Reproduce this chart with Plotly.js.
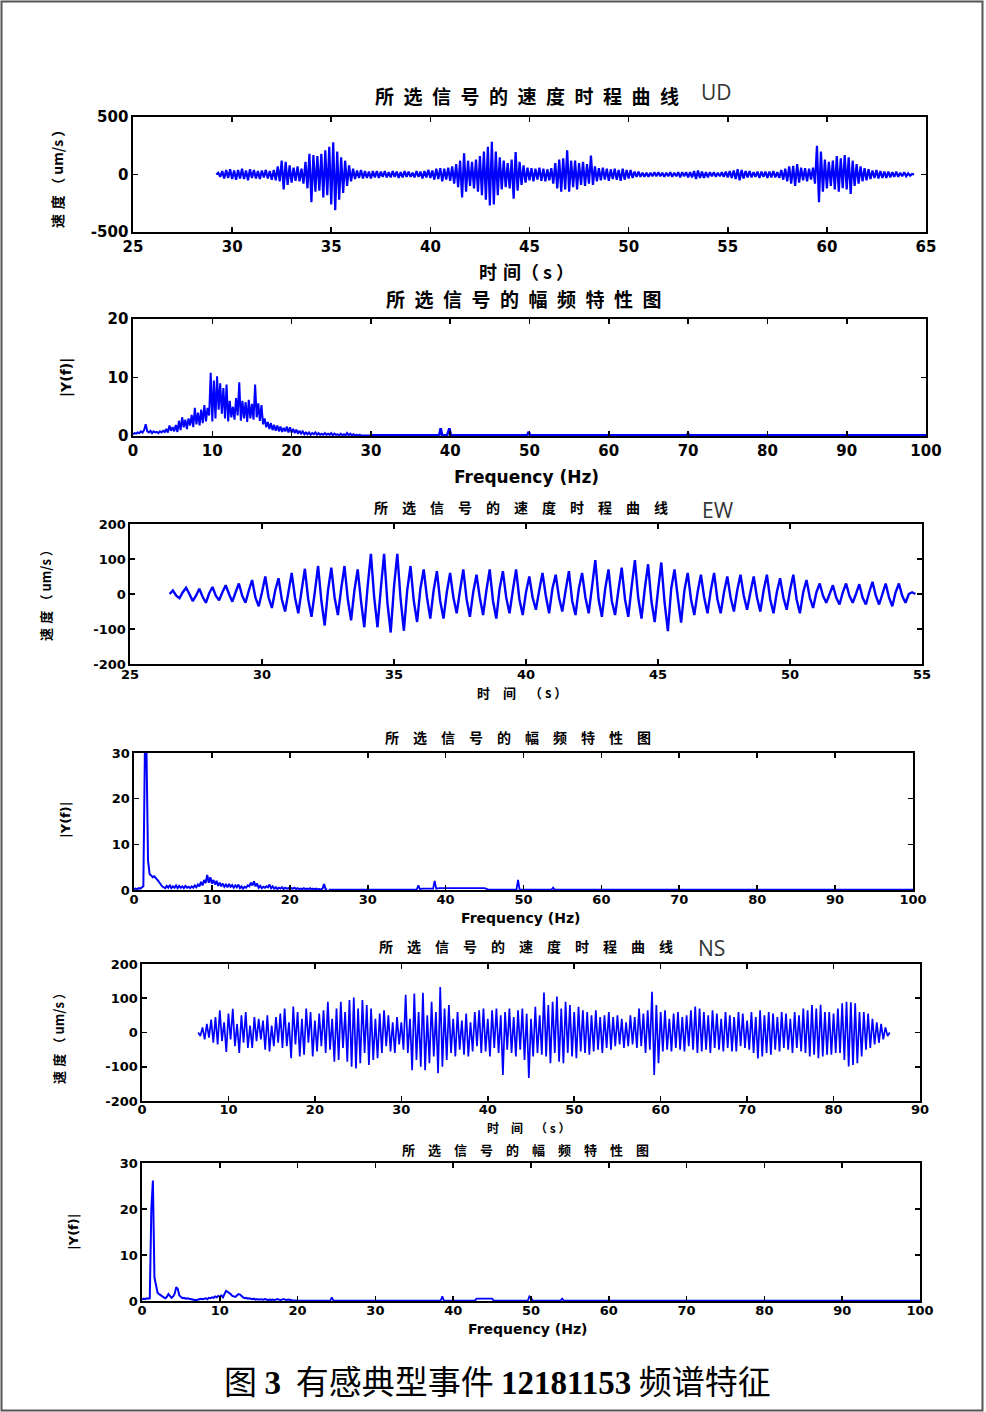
<!DOCTYPE html>
<html>
<head>
<meta charset="utf-8">
<script src="https://cdn.plot.ly/plotly-3.0.1.min.js"></script>
<style>html,body{margin:0;padding:0;background:#fff;}#chart{width:986px;height:1412px;}</style>
</head>
<body>
<div id="chart"></div>
<script>
// ---------------- DATA ----------------
// UD velocity time history (um/s), sampled every 0.1 s from 29.2 s
const udStart = 29.2, udStep = 0.1;
const udVel = [
0,15,-20,30,-35,40,-30,45,-40,35,
-45,40,-35,50,-40,35,-50,45,-30,40,
-35,30,-40,35,-25,40,-35,30,-45,40,
-50,70,-60,120,-130,110,-90,80,-70,60,
-55,70,-60,50,-80,110,-120,180,-240,170,
-150,160,-140,180,-200,210,-180,240,-260,280,
-310,200,-220,150,-160,120,-100,80,-60,50,
-40,35,-30,40,-35,30,-30,25,-35,30,
-25,30,-30,25,-20,30,-25,20,-25,30,
-20,25,-30,20,-25,30,-20,25,-20,15,
-25,30,-20,25,-35,30,-25,40,-30,35,
-45,50,-40,55,-60,50,-45,60,-55,70,
-80,90,-110,120,-200,185,-150,120,-100,110,
-120,130,-150,160,-180,200,-220,240,-270,285,
-260,200,-180,150,-130,120,-110,100,-120,130,
-210,195,-140,110,-90,80,-70,60,-50,55,
-60,50,-45,60,-55,50,-60,45,-50,55,
-80,100,-120,130,-150,140,-130,210,-150,120,
-110,120,-130,100,-90,110,-100,90,-80,165,
-90,70,-60,55,-50,60,-45,50,-55,45,
-40,50,-45,40,-55,50,-45,40,-35,40,
-30,25,-20,25,-20,15,-20,15,-20,15,
-15,20,-15,20,-15,15,-20,15,-15,20,
-20,15,-15,20,-25,20,-15,20,-25,20,
-25,30,-40,35,-30,25,-30,20,-25,20,
-15,20,-20,15,-15,20,-20,25,-25,30,
-30,35,-40,45,-50,40,-35,30,-25,30,
-25,20,-20,25,-30,25,-20,25,-30,25,
-25,30,-25,20,-30,40,-45,50,-60,70,
-80,75,-100,90,-70,60,-50,55,-60,50,
-45,60,-80,250,-240,200,-150,130,-120,110,
-100,120,-130,160,-150,140,-120,170,-130,150,
-170,120,-100,90,-80,70,-60,55,-50,45,
-40,35,-30,40,-35,30,-30,25,-30,25,
-25,20,-20,25,-20,15,-15,20,-15,10,
-10,5,0
];

// UD amplitude spectrum |Y(f)|, every 0.2 Hz from 0 to 30 Hz, then sparse tail
const udSpecStart = 0, udSpecStep = 0.2;
const udSpec = [
0.3,0.5,0.4,0.6,0.5,0.8,0.6,1.0,2.0,0.8,
0.6,0.9,0.5,0.8,0.6,0.7,0.5,0.8,0.6,0.9,
0.7,1.2,0.6,1.8,0.9,1.5,0.8,1.9,0.7,2.6,
1.0,3.2,1.5,2.8,1.2,3.0,1.8,3.6,1.5,4.8,
2.0,4.0,1.8,4.5,2.2,5.3,2.5,4.8,3.5,10.8,
2.5,9.5,3.0,10.2,4.5,9.0,3.8,8.2,3.0,8.8,
2.5,6.0,3.2,5.0,2.8,6.5,3.5,9.2,2.6,6.0,
3.0,5.8,2.4,6.2,3.0,5.5,2.8,8.8,3.2,5.6,
2.6,5.3,2.0,3.0,1.5,2.4,1.2,2.2,1.0,1.9,
0.9,1.8,0.8,1.6,0.7,1.4,0.8,1.6,0.6,1.5,
0.6,1.2,0.5,1.1,0.4,0.9,0.4,0.8,0.3,0.6,
0.3,0.6,0.2,0.5,0.3,0.6,0.2,0.5,0.2,0.4,
0.2,0.5,0.2,0.4,0.2,0.5,0.1,0.4,0.2,0.3,
0.1,0.4,0.1,0.3,0.1,0.5,0.1,0.4,0.1,0.3,
0.1,0.2,0.1,0.2,0.1,0.1,0.1,0.2,0.1,0.1,
0.1
];
const udTailFreq = [30,38.6,38.8,39.0,39.6,39.9,40.1,49.7,49.9,50.1,69.8,70.0,70.2,100];
const udTailAmp  = [0.1,0.1,1.3,0.1,0.1,1.3,0.1,0.1,0.7,0.1,0.1,0.4,0.1,0.1];

// EW velocity time history, every 0.125 s from 26.5 s
const ewStart = 26.5, ewStep = 0.125;
const ewVel = [
0,10,-5,-12, 5,18,0,-20, -5,15,-8,-25, 2,20,-5,-18,
5,25,0,-22, 5,30,-5,-25, 10,40,-10,-35, 5,50,-10,-40,
10,45,-15,-50, 5,60,-10,-55, 10,72,-15,-65, 5,80,-20,-90,
10,75,-10,-60, 15,80,-15,-75, 10,70,-20,-95, 20,115,-10,-95,
15,115,-25,-110, 20,115,-15,-105, 10,80,-20,-80, 15,70,-10,-70,
10,65,-20,-70, 5,60,-10,-55, 10,70,-15,-65, 5,55,-10,-60,
10,70,-20,-70, 15,65,-10,-55, 10,70,-15,-60, 5,50,-10,-45,
10,60,-5,-55, 15,55,-10,-50, 10,65,-20,-60, 15,60,-10,-55,
20,97,-15,-65, 15,70,-20,-60, 10,75,-15,-65, 20,97,-10,-70,
15,85,-20,-80, 10,90,-25,-106, 15,70,-10,-82, 10,60,-15,-60,
5,55,-10,-55, 10,60,-15,-55, 5,50,-10,-50, 10,55,-5,-45,
5,50,-10,-50, 10,55,-15,-55, 5,45,-10,-45, 10,55,-15,-55,
5,40,-10,-40, 5,30,-5,-25, 0,25,-10,-30, 5,30,-5,-25,
0,28,-10,-30, 5,35,-5,-30, 0,30,-10,-35, 5,30,-5,-25,
0,5,0
];

// EW amplitude spectrum, every 0.2 Hz from 0 to 24.8 Hz, then sparse tail
const ewSpecStart = 0, ewSpecStep = 0.2;
const ewSpec = [
0.2,0.3,0.2,0.4,0.3,0.5,0.8,31,31,6.5,
3.5,3.2,2.8,3.0,2.5,2.2,1.8,1.2,0.8,0.6,
0.4,0.9,0.5,1.1,0.4,0.8,0.5,1.0,0.4,0.9,
0.5,0.8,0.4,0.9,0.5,0.7,0.4,0.8,0.5,1.0,
0.6,1.2,0.8,1.8,1.0,2.2,1.5,3.3,1.6,2.8,
1.4,2.2,1.2,2.0,0.9,1.6,0.8,1.4,0.7,1.2,
0.6,1.3,0.7,1.1,0.5,1.0,0.6,1.2,0.4,0.8,
0.3,0.7,0.5,1.0,0.8,1.6,1.0,1.9,0.8,1.4,
0.5,0.9,0.4,0.7,0.5,0.8,0.6,1.2,0.4,0.8,
0.3,0.6,0.2,0.5,0.3,0.6,0.2,0.5,0.3,0.4,
0.2,0.4,0.3,0.5,0.2,0.4,0.2,0.3,0.2,0.4,
0.2,0.3,0.2,0.4,0.1,0.3,0.2,0.3,0.1,0.2,
0.1,0.3,1.3,0.2,0.1
];
const ewTailFreq = [25,36.3,36.5,36.7,37.0,38.4,38.6,38.8,39.2,45.0,45.5,49.1,49.3,49.5,53.6,53.8,54.0,100];
const ewTailAmp  = [0.1,0.1,1.0,0.2,0.3,0.3,2.0,0.3,0.4,0.4,0.1,0.1,2.2,0.1,0.1,0.5,0.1,0.1];

// NS velocity time history, every 0.25 s from 6.5 s
const nsStart = 6.5, nsStep = 0.25;
const nsVel = [
0,-10,15,-20, 25,-15,38,-30, 45,-35,65,-25, 30,-57,55,-20,
69,-40,25,-60, 50,-30,60,-45, 20,-45,45,-25, 40,-20,35,-50,
50,-55,20,-40, 45,-30,55,-45, 70,-40,30,-75, 76,-35,60,-70,
40,-65,70,-30, 60,-70,35,-55, 55,-40,65,-60, 90,-50,40,-85,
70,-80,90,-45, 60,-85,95,-100, 102,-105,70,-90, 95,-60,80,-95,
70,-80,40,-75, 55,-60,65,-40, 50,-55,30,-60, 45,-35,30,-50,
110,-60,40,-110, 114,-80,60,-100, 116,-110,50,-90, 90,-70,60,-119,
133,-100,70,-80, 80,-60,40,-70, 60,-50,35,-65, 55,-70,30,-55,
60,-40,65,-60, 70,-55,40,-70, 65,-45,70,-60, 50,-124,60,-50,
70,-60,45,-70, 65,-50,70,-80, 55,-133,40,-70, 75,-60,50,-65,
117,-70,80,-90, 90,-60,105,-85, 70,-90,90,-60, 80,-70,60,-75,
75,-55,65,-60, 60,-65,50,-55, 65,-50,45,-60, 50,-45,60,-50,
45,-40,50,-35, 40,-45,30,-40, 50,-35,45,-45, 70,-40,55,-60,
65,-50,119,-124, 80,-90,60,-55, 65,-50,40,-55, 55,-45,60,-50,
45,-55,50,-40, 65,-50,76,-60, 70,-55,60,-50, 50,-60,65,-45,
55,-50,40,-55, 60,-45,50,-55, 45,-55,60,-40, 55,-45,35,-50,
60,-60,45,-76, 65,-70,50,-60, 60,-65,55,-50, 45,-55,60,-45,
55,-50,40,-60, 60,-45,50,-55, 70,-60,65,-70, 80,-65,70,-75,
81,-70,60,-65, 60,-65,55,-60, 70,-60,85,-80, 90,-99,88,-95,
85,-90,60,-70, 60,-50,55,-45, 40,-35,30,-30, 25,-20,15,-10,
0
];

// NS amplitude spectrum, every 0.2 Hz from 0 to 20 Hz, then sparse tail
const nsSpecStart = 0, nsSpecStep = 0.2;
const nsSpec = [
0.3,0.5,0.4,0.6,0.5,0.6,20,26.2,5.1,3.0,
1.8,1.5,1.2,1.0,0.8,0.6,0.9,1.5,1.0,0.7,
1.0,1.6,3.0,2.6,1.2,0.8,0.6,0.7,0.5,0.6,
0.5,0.4,0.3,0.2,0.2,0.2,0.3,0.4,0.5,0.4,
0.5,0.6,0.4,0.7,0.6,0.8,0.7,1.0,0.8,1.1,
0.9,1.2,0.8,1.6,2.2,2.0,1.8,1.5,1.1,1.0,
0.9,1.2,1.5,1.4,1.0,0.8,0.6,0.7,0.5,0.6,
0.5,0.4,0.5,0.3,0.4,0.3,0.4,0.3,0.3,0.4,
0.3,0.2,0.3,0.2,0.3,0.2,0.3,0.4,0.3,0.2,
0.3,0.4,0.3,0.2,0.3,0.2,0.1,0.1,0.1,0.1,
0.1
];
const nsTailFreq = [20,24.2,24.4,24.6,38.4,38.6,38.8,42.8,43.0,45.0,45.2,49.6,49.8,50.0,50.2,53.8,54.0,54.2,100];
const nsTailAmp  = [0.1,0.1,0.8,0.1,0.1,1.0,0.1,0.1,0.5,0.5,0.1,0.1,1.0,0.8,0.1,0.1,0.5,0.1,0.1];

// Tick labels
const velTicks500 = [-500, 0, 500];
const velTickText500 = ['-500', '0', '500'];
const velTicks200 = [-200, -100, 0, 100, 200];
const velTickText200 = ['-200', '-100', '0', '100', '200'];

// Texts
const titleVel = '所选信号的速度时程曲线';
const titleSpec = '所选信号的幅频特性图';

// ---------------- LAYOUT ----------------
const W = 986, H = 1412;
const px = v => v / W;
const py = v => 1 - v / H;
const BLUE = '#0000ff';

function axisBase(extra) {
  return Object.assign({
    showline: true, linecolor: 'black', linewidth: 1.6, mirror: 'ticks',
    ticks: 'inside', ticklen: 5, tickwidth: 1.6, tickcolor: 'black',
    showgrid: false, zeroline: false, fixedrange: true, automargin: false,
    tickfont: {family: 'DejaVu Sans', size: 15, weight: 'bold', color: 'black'}
  }, extra);
}
const smallTick = {family: 'DejaVu Sans', size: 13, weight: 'bold', color: 'black'};

function tr(n, obj) {
  return Object.assign({type: 'scatter', mode: 'lines', xaxis: 'x' + (n === 1 ? '' : n), yaxis: 'y' + (n === 1 ? '' : n),
    line: {color: BLUE, width: 1.8}, hoverinfo: 'skip'}, obj);
}

const data = [
  tr(1, {y: udVel, x0: udStart, dx: udStep, line: {color: BLUE, width: 2.2}}),
  tr(2, {y: udSpec, x0: udSpecStart, dx: udSpecStep, line: {color: BLUE, width: 2}}),
  tr(2, {x: udTailFreq, y: udTailAmp, line: {color: BLUE, width: 2.6}}),
  tr(3, {y: ewVel, x0: ewStart, dx: ewStep, line: {color: BLUE, width: 2.4}}),
  tr(4, {y: ewSpec, x0: ewSpecStart, dx: ewSpecStep, line: {color: BLUE, width: 2}}),
  tr(4, {x: ewTailFreq, y: ewTailAmp, line: {color: BLUE, width: 1.8}}),
  tr(5, {y: nsVel, x0: nsStart, dx: nsStep, line: {color: BLUE, width: 1.7}}),
  tr(6, {y: nsSpec, x0: nsSpecStart, dx: nsSpecStep, line: {color: BLUE, width: 2}}),
  tr(6, {x: nsTailFreq, y: nsTailAmp, line: {color: BLUE, width: 1.8}})
];

function cjk(text, x, y, size, extra) {
  return Object.assign({text: text, x: px(x), y: py(y), xref: 'paper', yref: 'paper', showarrow: false,
    xanchor: 'center', yanchor: 'middle',
    font: {family: 'Noto Sans CJK SC', size: size, weight: 'bold', color: 'black'}}, extra || {});
}
const latin = (size) => ({family: 'DejaVu Sans', size: size, weight: 'bold', color: 'black'});
const sp = (s, sep) => s.split('').join(sep);

const annotations = [
  cjk(sp(titleVel, '\u2002'), 527, 95, 19),
  cjk('UD', 716, 92, 21, {font: {family: 'Open Sans', size: 21, color: '#333'}}),
  cjk('速\u2004度\u2005（ um/s ）', 57, 176, 14, {textangle: -90}),
  cjk('时\u2004间（ s ）', 526, 271, 18),
  cjk(sp(titleSpec, '\u2002'), 524, 298, 19),
  cjk('|Y(f)|', 66, 378, 14, {textangle: -90, font: latin(14)}),
  cjk('Frequency (Hz)', 526, 477, 17, {font: latin(17)}),

  cjk(sp(titleVel, '\u2003'), 521, 507, 14),
  cjk('EW', 718, 510, 21, {font: {family: 'Open Sans', size: 21, color: '#333'}}),
  cjk('速\u2004度\u2005（ um/s ）', 45, 592, 13, {textangle: -90}),
  cjk('时\u2003间\u2003（ s ）', 522, 693, 13),

  cjk(sp(titleSpec, '\u2003'), 518, 737, 14),
  cjk('|Y(f)|', 65, 820, 13, {textangle: -90, font: latin(13)}),
  cjk('Frequency (Hz)', 520, 918, 14, {font: latin(14)}),

  cjk(sp(titleVel, '\u2003'), 526, 946, 14),
  cjk('NS', 711, 948, 21, {font: {family: 'Open Sans', size: 21, color: '#333'}}),
  cjk('速\u2004度\u2005（ um/s ）', 58, 1035, 13, {textangle: -90}),
  cjk('时\u2003间\u2003（ s ）', 528, 1127, 12),

  cjk(sp(titleSpec, '\u2003'), 525, 1149, 13),
  cjk('|Y(f)|', 73, 1232, 13, {textangle: -90, font: latin(13)}),
  cjk('Frequency (Hz)', 527, 1329, 14, {font: latin(14)}),

  cjk('图 <span style="font-family:\'Liberation Serif\';font-weight:bold">3</span>  有感典型事件 <span style="font-family:\'Liberation Serif\';font-weight:bold">12181153</span> 频谱特征',
      497, 1380, 33, {font: {family: 'Noto Sans CJK SC', size: 33, weight: 'normal', color: 'black'}})
];

const layout = {
  width: W, height: H, margin: {l: 0, r: 0, t: 0, b: 0},
  paper_bgcolor: 'white', plot_bgcolor: 'white', showlegend: false,
  xaxis:  axisBase({domain: [px(133), px(926)], range: [25, 65], tick0: 25, dtick: 5, anchor: 'y'}),
  yaxis:  axisBase({domain: [py(232), py(117)], range: [-500, 500], tickmode: 'array', tickvals: velTicks500, ticktext: velTickText500, anchor: 'x'}),
  xaxis2: axisBase({domain: [px(133), px(926)], range: [0, 100], tick0: 0, dtick: 10, anchor: 'y2'}),
  yaxis2: axisBase({domain: [py(436), py(319)], range: [0, 20], tick0: 0, dtick: 10, anchor: 'x2'}),
  xaxis3: axisBase({domain: [px(130), px(922)], range: [25, 55], tick0: 25, dtick: 5, anchor: 'y3', tickfont: smallTick, ticklabelstandoff: -2}),
  yaxis3: axisBase({domain: [py(664), py(524)], range: [-200, 200], tickmode: 'array', tickvals: velTicks200, ticktext: velTickText200, anchor: 'x3', tickfont: smallTick}),
  xaxis4: axisBase({domain: [px(134), px(913)], range: [0, 100], tick0: 0, dtick: 10, anchor: 'y4', tickfont: smallTick, ticklabelstandoff: -3}),
  yaxis4: axisBase({domain: [py(890), py(753)], range: [0, 30], tick0: 0, dtick: 10, anchor: 'x4', tickfont: smallTick}),
  xaxis5: axisBase({domain: [px(142), px(920)], range: [0, 90], tick0: 0, dtick: 10, anchor: 'y5', tickfont: smallTick, ticklabelstandoff: -4}),
  yaxis5: axisBase({domain: [py(1101), py(964)], range: [-200, 200], tickmode: 'array', tickvals: velTicks200, ticktext: velTickText200, anchor: 'x5', tickfont: smallTick}),
  xaxis6: axisBase({domain: [px(142), px(920)], range: [0, 100], tick0: 0, dtick: 10, anchor: 'y6', tickfont: smallTick, ticklabelstandoff: -3}),
  yaxis6: axisBase({domain: [py(1301), py(1163)], range: [0, 30], tick0: 0, dtick: 10, anchor: 'x6', tickfont: smallTick}),
  annotations: annotations,
  shapes: [{type: 'rect', xref: 'paper', yref: 'paper', x0: px(1.5), x1: px(982.5), y0: py(1410.5), y1: py(1.5),
            line: {color: '#555', width: 2}, fillcolor: 'rgba(0,0,0,0)', layer: 'above'}]
};

Plotly.newPlot('chart', data, layout, {staticPlot: true, displayModeBar: false});
</script>
</body>
</html>
